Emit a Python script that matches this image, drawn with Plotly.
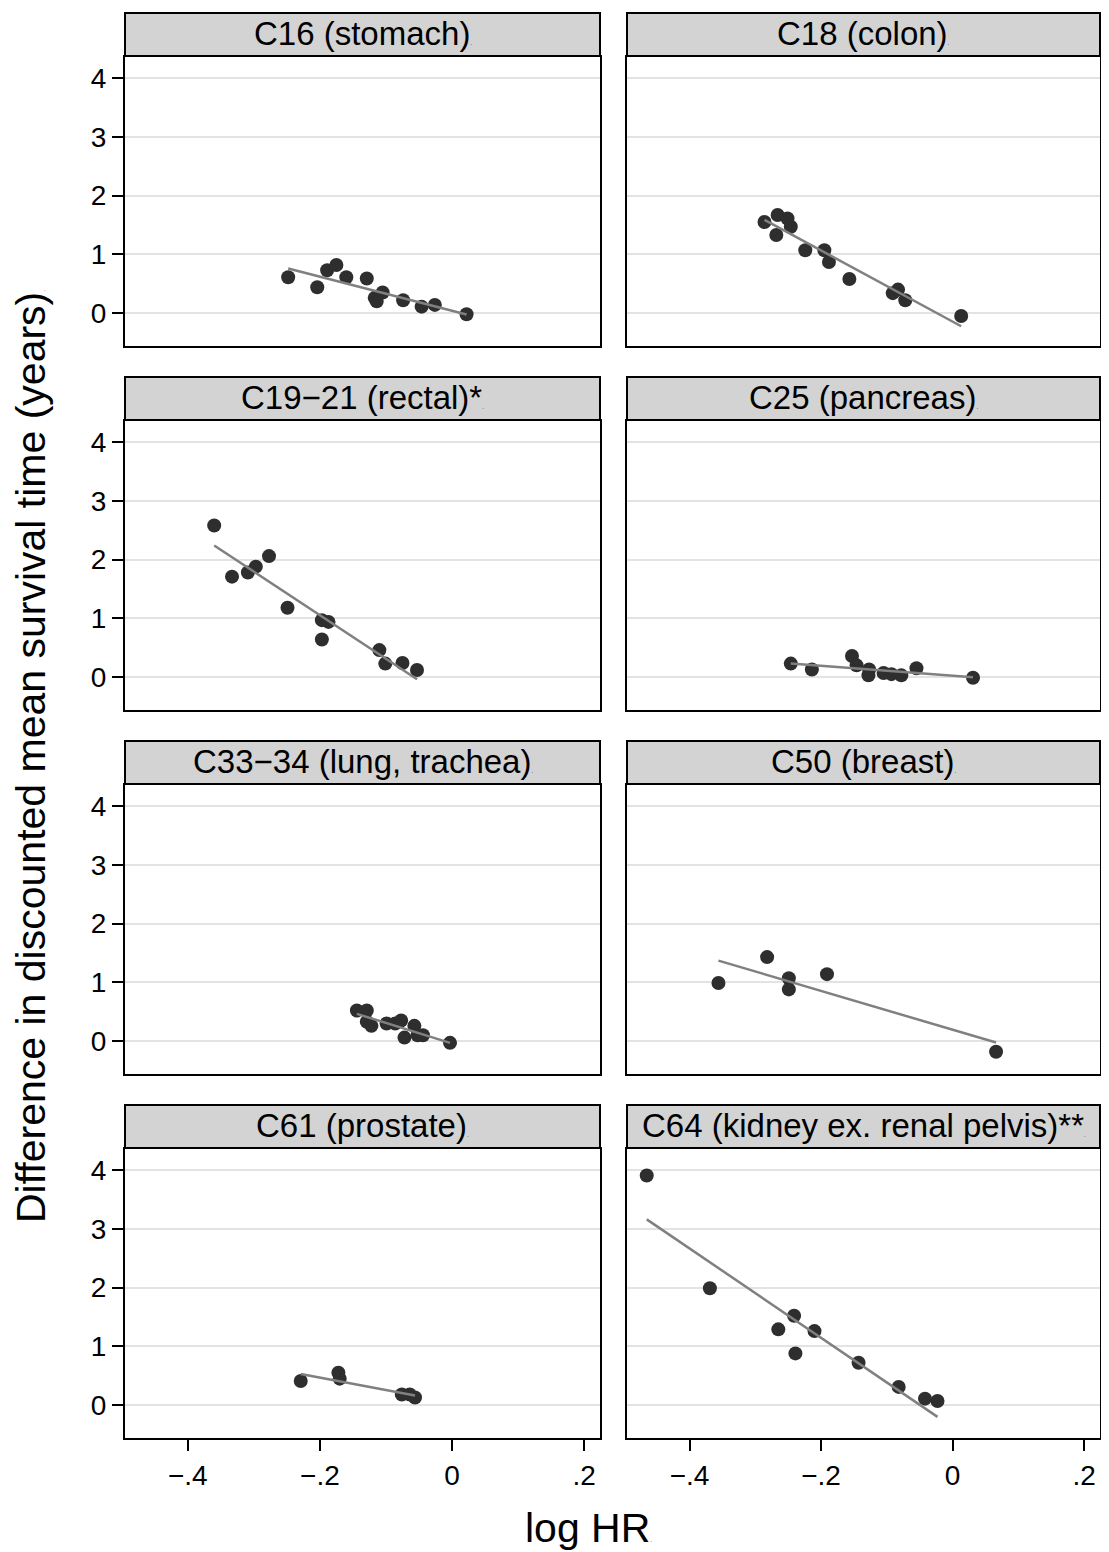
import numpy as np
import plotly.graph_objects as go

# ---------------- data ----------------
titles = ["C16 (stomach)", "C18 (colon)", "C19\u221221 (rectal)*", "C25 (pancreas)",
          "C33\u221234 (lung, trachea)", "C50 (breast)", "C61 (prostate)",
          "C64 (kidney ex. renal pelvis)**"]

c16_x = [-0.248, -0.204, -0.189, -0.175, -0.160, -0.129, -0.105, -0.117, -0.114, -0.074, -0.046, -0.026, 0.022]
c16_y = [0.61, 0.44, 0.73, 0.82, 0.61, 0.59, 0.35, 0.26, 0.20, 0.22, 0.11, 0.14, -0.02]

c18_x = [-0.286, -0.266, -0.251, -0.246, -0.268, -0.224, -0.195, -0.188, -0.157, -0.091, -0.083, -0.072, 0.013]
c18_y = [1.55, 1.67, 1.61, 1.47, 1.33, 1.07, 1.07, 0.87, 0.58, 0.34, 0.40, 0.22, -0.05]

c19_x = [-0.360, -0.333, -0.309, -0.297, -0.277, -0.249, -0.197, -0.187, -0.197, -0.110, -0.101, -0.075, -0.053]
c19_y = [2.58, 1.71, 1.78, 1.88, 2.06, 1.18, 0.97, 0.94, 0.64, 0.46, 0.23, 0.24, 0.12]

c25_x = [-0.246, -0.214, -0.153, -0.146, -0.127, -0.128, -0.105, -0.093, -0.078, -0.055, 0.031]
c25_y = [0.23, 0.13, 0.36, 0.20, 0.13, 0.03, 0.07, 0.05, 0.03, 0.15, -0.01]

c33_x = [-0.144, -0.129, -0.129, -0.122, -0.099, -0.086, -0.077, -0.072, -0.057, -0.052, -0.044, -0.003]
c33_y = [0.52, 0.52, 0.33, 0.26, 0.30, 0.30, 0.35, 0.06, 0.26, 0.10, 0.10, -0.03]

c50_x = [-0.356, -0.282, -0.249, -0.249, -0.191, 0.066]
c50_y = [0.99, 1.43, 1.07, 0.88, 1.14, -0.18]

c61_x = [-0.229, -0.172, -0.170, -0.076, -0.064, -0.056]
c61_y = [0.41, 0.55, 0.45, 0.18, 0.18, 0.13]

c64_x = [-0.465, -0.369, -0.265, -0.241, -0.239, -0.210, -0.143, -0.082, -0.042, -0.023]
c64_y = [3.91, 1.99, 1.29, 1.52, 0.88, 1.26, 0.72, 0.31, 0.11, 0.07]

xs = [c16_x, c18_x, c19_x, c25_x, c33_x, c50_x, c61_x, c64_x]
ys = [c16_y, c18_y, c19_y, c25_y, c33_y, c50_y, c61_y, c64_y]

x_tickvals = [-0.4, -0.2, 0, 0.2]
x_ticktext = ["\u2212.4", "\u2212.2", "0", ".2"]
y_tickvals = [0, 1, 2, 3, 4]
y_ticktext = ["0", "1", "2", "3", "4"]

x_title = "log HR"
y_title = "Difference in discounted mean survival time (years)"

# ---------------- layout geometry (page pixels) ----------------
OFF = 8                      # page body margin of the browser
W, H = 1109 - 2 * OFF, 1552 - OFF
FONT = "Liberation Sans, Arial, Helvetica, sans-serif"
col_px = [(125, 600), (627, 1100)]
row_top = [57, 421, 785, 1149]
plot_h = 289
strip_h = 43
XR = [-0.495, 0.224]
YR = [-0.56, 4.36]

def px_x(p):
    return (p - OFF) / W

def px_y(p):
    return 1 - (p - OFF) / H

fig = go.Figure()
shapes = []
annotations = []

for i in range(8):
    r, c = divmod(i, 2)
    n = i + 1
    xa = "x" if n == 1 else f"x{n}"
    ya = "y" if n == 1 else f"y{n}"
    xl = "xaxis" if n == 1 else f"xaxis{n}"
    yl = "yaxis" if n == 1 else f"yaxis{n}"
    x0, x1 = col_px[c]
    top = row_top[r]
    bot = top + plot_h

    xarr = np.array(xs[i])
    yarr = np.array(ys[i])
    slope, icpt = np.polyfit(xarr, yarr, 1)
    fx = np.array([xarr.min(), xarr.max()])
    fy = icpt + slope * fx

    fig.add_trace(go.Scatter(x=xarr, y=yarr, mode="markers", xaxis=xa, yaxis=ya,
                             marker=dict(size=14, color="#2e2e2e", line=dict(width=0)),
                             showlegend=False, hoverinfo="skip"))
    fig.add_trace(go.Scatter(x=fx, y=fy, mode="lines", xaxis=xa, yaxis=ya,
                             line=dict(color="#808080", width=2.5),
                             showlegend=False, hoverinfo="skip"))

    bottom_row = (r == 3)
    left_col = (c == 0)
    fig.update_layout(**{
        xl: dict(domain=[px_x(x0), px_x(x1)], range=XR, anchor=ya,
                 showgrid=False, zeroline=False, showline=True, mirror=True,
                 linecolor="black", linewidth=2,
                 tickmode="array", tickvals=x_tickvals, ticktext=x_ticktext,
                 ticks="outside" if bottom_row else "", ticklen=11, tickwidth=1.5,
                 tickcolor="black", showticklabels=bottom_row,
                 tickfont=dict(family=FONT, size=28, color="black")),
        yl: dict(domain=[px_y(bot), px_y(top)], range=YR, anchor=xa,
                 showgrid=True, gridcolor="#e3e3e3", gridwidth=2, zeroline=False,
                 showline=True, mirror=True, linecolor="black", linewidth=2,
                 tickmode="array", tickvals=y_tickvals, ticktext=y_ticktext,
                 ticks="outside" if left_col else "", ticklen=11, tickwidth=1.5,
                 tickcolor="black", showticklabels=left_col,
                 tickfont=dict(family=FONT, size=28, color="black")),
    })

    # strip header
    s_top = top - 1 - strip_h
    s_bot = top - 1
    shapes.append(dict(type="rect", xref="paper", yref="paper",
                       x0=px_x(x0), x1=px_x(x1), y0=px_y(s_bot), y1=px_y(s_top),
                       fillcolor="#d3d3d3", line=dict(color="black", width=2), layer="above"))
    annotations.append(dict(xref="paper", yref="paper", x=px_x((x0 + x1) / 2),
                            y=px_y((s_top + s_bot) / 2 - 1), xanchor="center", yanchor="middle",
                            text=titles[i] + "<span style='font-size:6px'>.</span>",
                            showarrow=False, font=dict(family=FONT, size=33, color="black")))

annotations.append(dict(xref="paper", yref="paper", x=px_x(588), y=px_y(1528),
                        xanchor="center", yanchor="middle", showarrow=False,
                        text=x_title + "<span style='font-size:6px'>.</span>",
                        font=dict(family=FONT, size=41, color="black")))
annotations.append(dict(xref="paper", yref="paper", x=px_x(31), y=px_y(757),
                        xanchor="center", yanchor="middle", showarrow=False, textangle=-90,
                        text=y_title + "<span style='font-size:6px'>.</span>",
                        font=dict(family=FONT, size=41, color="black")))

fig.update_layout(width=W, height=H, margin=dict(l=0, r=0, t=0, b=0),
                  paper_bgcolor="white", plot_bgcolor="white",
                  shapes=shapes, annotations=annotations, showlegend=False)

fig.write_html("out.html")
